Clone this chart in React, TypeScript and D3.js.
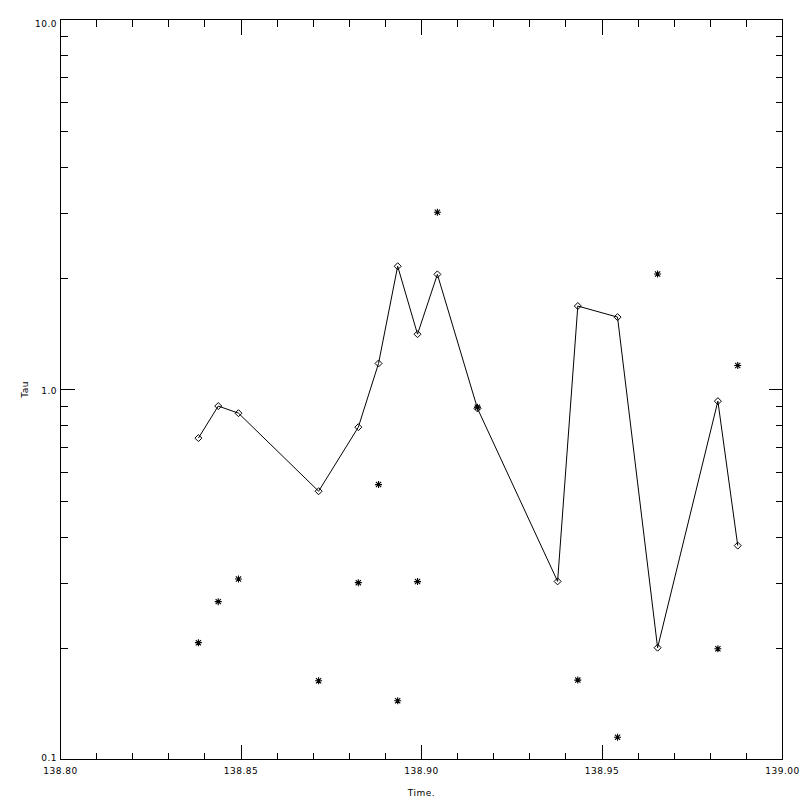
import * as d3 from "d3";

// time (day) of each sample
const times = [
  138.8382, 138.8437, 138.8493, 138.8715, 138.8825, 138.8881, 138.8934, 138.8989,
  138.9044, 138.9155, 138.9377, 138.9433, 138.9543, 138.9654, 138.9821, 138.9876,
];
// Tau, joined by the line (diamonds)
const tauLine = [
  0.739, 0.902, 0.863, 0.531, 0.791, 1.176, 2.153, 1.411,
  2.047, 0.889, 0.303, 1.681, 1.569, 0.2005, 0.93, 0.3785,
];
// Tau, second estimate (asterisks); null = not shown
const tauStar: (number | null)[] = [
  0.2069, 0.2671, 0.3075, 0.1633, 0.3006, 0.5534, 0.1442, 0.3026,
  3.013, 0.896, null, 0.1639, 0.1149, 2.051, 0.1993, 1.161,
];
const xTickLabels = ["138.80", "138.85", "138.90", "138.95", "139.00"];
const yTickLabels = ["0.1", "1.0", "10.0"];

const W = 800,
  H = 800,
  left = 60.5,
  right = 782.5,
  top = 19.5,
  bottom = 759.5;

export default function App() {
  const x = d3.scaleLinear().domain([138.8, 139.0]).range([left, right]);
  const y = d3.scaleLog().domain([0.1, 10]).range([bottom, top]);

  const majorX = d3.range(0, 5).map((i) => 138.8 + i * 0.05);
  const minorX = d3.range(0, 21).map((i) => 138.8 + i * 0.01).filter((_, i) => i % 5 !== 0);
  const yTicks = y.ticks();
  const majorY = [0.1, 1, 10];
  const minorY = yTicks.filter((t) => !majorY.some((m) => Math.abs(m - t) < 1e-9));

  const line = d3
    .line<number>()
    .x((_, i) => x(times[i]))
    .y((d) => y(d));

  const font = {
    fontFamily: "DejaVu Sans",
    fontSize: 9,
    letterSpacing: 0.5,
  } as const;

  return (
    <svg
      width={W}
      height={H}
      style={{ position: "absolute", left: 0, top: 0, background: "#fff" }}
    >
      <rect x={0} y={0} width={W} height={H} fill="#fff" />
      <g stroke="#000" strokeWidth={1} shapeRendering="crispEdges" fill="none">
        <rect x={left} y={top} width={right - left} height={bottom - top} />
        {majorX.map((t, i) => (
          <g key={"mx" + i}>
            <line x1={x(t)} x2={x(t)} y1={bottom} y2={bottom - 15} />
            <line x1={x(t)} x2={x(t)} y1={top} y2={top + 15} />
          </g>
        ))}
        {minorX.map((t, i) => (
          <g key={"nx" + i}>
            <line x1={x(t)} x2={x(t)} y1={bottom} y2={bottom - 7} />
            <line x1={x(t)} x2={x(t)} y1={top} y2={top + 7} />
          </g>
        ))}
        {majorY.map((t, i) => (
          <g key={"my" + i}>
            <line x1={left} x2={left + 14} y1={y(t)} y2={y(t)} />
            <line x1={right} x2={right - 14} y1={y(t)} y2={y(t)} />
          </g>
        ))}
        {minorY.map((t, i) => (
          <g key={"ny" + i}>
            <line x1={left} x2={left + 7} y1={Math.round(y(t)) + 0.5} y2={Math.round(y(t)) + 0.5} />
            <line x1={right} x2={right - 7} y1={Math.round(y(t)) + 0.5} y2={Math.round(y(t)) + 0.5} />
          </g>
        ))}
      </g>

      <g fill="#000" {...font}>
        {majorX.map((t, i) => (
          <text key={"lx" + i} x={x(t)} y={774} textAnchor="middle">
            {xTickLabels[i]}
          </text>
        ))}
        {majorY.map((t, i) => (
          <text
            key={"ly" + i}
            x={57}
            y={y(t) + 1 + (Math.log10(t) + 1) * 3}
            textAnchor="end"
          >
            {yTickLabels[i]}
          </text>
        ))}
        <text x={(left + right) / 2} y={796} textAnchor="middle">
          Time.
        </text>
        <text transform={`translate(28,${(top + bottom) / 2}) rotate(-90)`} textAnchor="middle">
          Tau
        </text>
      </g>

      <path d={line(tauLine) ?? ""} fill="none" stroke="#000" strokeWidth={1} />
      <g fill="none" stroke="#000" strokeWidth={1}>
        {tauLine.map((v, i) => {
          const cx = x(times[i]),
            cy = y(v),
            r = 3.5;
          return (
            <path
              key={"d" + i}
              d={`M${cx},${cy - r}L${cx + r},${cy}L${cx},${cy + r}L${cx - r},${cy}Z`}
            />
          );
        })}
      </g>
      <g stroke="#000" strokeWidth={1.1}>
        {tauStar.map((v, i) => {
          if (v == null) return null;
          const cx = x(times[i]),
            cy = y(v),
            r = 3.5,
            q = 2.6;
          return (
            <path
              key={"s" + i}
              d={`M${cx - r},${cy}H${cx + r}M${cx},${cy - r}V${cy + r}M${cx - q},${cy - q}L${cx + q},${cy + q}M${cx - q},${cy + q}L${cx + q},${cy - q}`}
            />
          );
        })}
      </g>
    </svg>
  );
}
